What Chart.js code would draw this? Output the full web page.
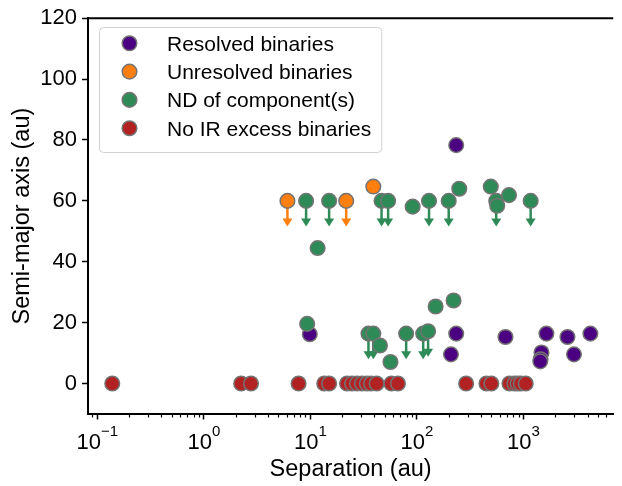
<!DOCTYPE html>
<html>
<head>
<meta charset="utf-8">
<script src="https://cdn.jsdelivr.net/npm/chart.js@4"></script>
<style>
  html, body { margin: 0; padding: 0; background: #fff; }
  #wrap { width: 622px; height: 486px; position: relative; }
</style>
</head>
<body>
<div id="wrap"><canvas id="binaryChart"></canvas></div>
<script>
// Data (separation in au, semi-major axis in au)
const resolvedSep = [9.87, 234, 209, 234, 679, 1645, 2593, 4256, 2985, 1479, 1450, 1440];
const resolvedA   = [16.2, 78.3, 9.6, 16.4, 15.3, 16.4, 15.3, 16.4, 9.6, 10.2, 8.0, 7.3];

const unresolvedSep = [6.09, 21.7, 39.0];
const unresolvedA   = [60, 60, 64.7];
const unresolvedLim = [true, true, false];

const ndSep = [9.12, 15.0, 46.6, 53.7, 91.3, 130, 199, 250, 494, 556, 568, 733, 1170,
               11.7, 9.33, 35.1, 39.0, 45.0, 56.5, 79.3, 114.6, 127.5, 150, 221];
const ndA   = [60, 60, 60, 60, 58.1, 60, 60, 64.0, 64.7, 60, 58.4, 61.9, 60,
               44.5, 19.6, 16.4, 16.4, 12.5, 7.1, 16.4, 16.4, 17.2, 25.3, 27.3];
const ndLim = [true, true, true, true, false, true, true, false, false, true, false, false, true,
               false, false, true, true, false, false, true, true, true, false, false];

const noIrSep = [0.138, 2.24, 2.77, 7.75, 13.5, 15.0, 22.1, 24.6, 27.4, 30.5, 33.9, 37.1, 41.9,
                 57.7, 66.4, 290, 450, 500, 740, 822, 883, 946, 1052];
const noIrA   = noIrSep.map(() => 0);

const LABELS = ['Resolved binaries', 'Unresolved binaries', 'ND of component(s)', 'No IR excess binaries'];
const COLORS = ['#4b0082', '#ff7f0e', '#2e8b57', '#b22222'];

// Axes
const X_MIN = 0.0817, X_MAX = 6970;
const X_MAJOR = [0.1, 1, 10, 100, 1000];
const Y_MIN = -10, Y_MAX = 120;
const Y_TICKS = [0, 20, 40, 60, 80, 100, 120];
const ARROW_LEN = 8.4; // upper-limit arrow length in au

const FONT = '"Liberation Sans", Arial, sans-serif';
const EDGE = '#737373';

// minor ticks of the log axis: 2..9 x each decade inside the range
const X_MINOR = [];
for (let e = -2; e <= 3; e++) {
    for (let m = 2; m <= 9; m++) {
        const v = m * Math.pow(10, e);
        if (v > X_MIN && v < X_MAX) X_MINOR.push(v);
    }
}

function toPoints(xs, ys) {
    return xs.map((x, i) => ({ x: x, y: ys[i] }));
}

function makeSet(i, xs, ys, lims) {
    return {
        label: LABELS[i],
        data: toPoints(xs, ys),
        upperLimits: lims || null,
        backgroundColor: COLORS[i],
        borderColor: EDGE,
        pointRadius: 7.3,
        pointHoverRadius: 7.3,
        pointBorderWidth: 1.5,
        order: 4 - i // later series drawn on top
    };
}

// Extra drawing: arrows, top spine, exponent tick labels, minor ticks, legend
const decorations = {
    id: 'decorations',
    beforeDatasetsDraw(chart) {
        const { ctx, scales: { x, y } } = chart;
        ctx.save();
        chart.data.datasets.forEach(ds => {
            if (!ds.upperLimits) return;
            ds.data.forEach((p, i) => {
                if (!ds.upperLimits[i]) return;
                const px = x.getPixelForValue(p.x);
                const y0 = y.getPixelForValue(p.y);
                const tip = y.getPixelForValue(p.y - ARROW_LEN);
                ctx.strokeStyle = ds.backgroundColor;
                ctx.fillStyle = ds.backgroundColor;
                ctx.lineWidth = 2.5;
                ctx.beginPath();
                ctx.moveTo(px, y0);
                ctx.lineTo(px, tip - 6);
                ctx.stroke();
                ctx.beginPath();
                ctx.moveTo(px - 5, tip - 8);
                ctx.lineTo(px + 5, tip - 8);
                ctx.lineTo(px, tip);
                ctx.closePath();
                ctx.fill();
            });
        });
        ctx.restore();
    },
    afterDraw(chart) {
        const { ctx, chartArea, scales: { x } } = chart;
        ctx.save();

        // top spine
        ctx.strokeStyle = '#000';
        ctx.lineWidth = 2;
        ctx.beginPath();
        ctx.moveTo(chartArea.left - 1, chartArea.top);
        ctx.lineTo(chartArea.right, chartArea.top);
        ctx.stroke();

        // minor ticks
        ctx.lineWidth = 1.2;
        X_MINOR.forEach(v => {
            const px = Math.round(x.getPixelForValue(v)) + 0.5;
            ctx.beginPath();
            ctx.moveTo(px, chartArea.bottom);
            ctx.lineTo(px, chartArea.bottom + 3.5);
            ctx.stroke();
        });

        // x tick labels as 10^n
        ctx.fillStyle = '#000';
        ctx.textBaseline = 'alphabetic';
        ctx.textAlign = 'left';
        X_MAJOR.forEach(v => {
            const e = Math.round(Math.log10(v));
            const expText = e < 0 ? '\u2212' + Math.abs(e) : String(e);
            ctx.font = '22px ' + FONT;
            const wBase = ctx.measureText('10').width;
            ctx.font = '15px ' + FONT;
            const wExp = ctx.measureText(expText).width;
            const px = x.getPixelForValue(v);
            const start = px - (wBase + wExp) / 2;
            ctx.font = '22px ' + FONT;
            ctx.fillText('10', start, 449);
            ctx.font = '15px ' + FONT;
            ctx.fillText(expText, start + wBase, 436);
        });

        // legend
        ctx.font = '21px ' + FONT;
        let maxW = 0;
        LABELS.forEach(t => { maxW = Math.max(maxW, ctx.measureText(t).width); });
        const lx = 99, ly = 27, lh = 125;
        const textX = 167;
        const lw = textX + maxW + 10 - lx;
        ctx.beginPath();
        ctx.roundRect(lx + 0.5, ly + 0.5, lw, lh, 4);
        ctx.fillStyle = 'rgba(255,255,255,0.8)';
        ctx.fill();
        ctx.strokeStyle = '#d0d0d0';
        ctx.lineWidth = 1;
        ctx.stroke();
        LABELS.forEach((t, i) => {
            const cy = 43.3 + i * 28.3;
            ctx.beginPath();
            ctx.arc(129.5, cy, 7.3, 0, Math.PI * 2);
            ctx.fillStyle = COLORS[i];
            ctx.fill();
            ctx.strokeStyle = EDGE;
            ctx.lineWidth = 1.5;
            ctx.stroke();
            ctx.fillStyle = '#000';
            ctx.fillText(t, textX, cy + 7.3);
        });
        ctx.restore();
    }
};

Chart.defaults.font.family = FONT;
Chart.defaults.color = '#000';

const ctx = document.getElementById('binaryChart').getContext('2d');
const chart = new Chart(ctx, {
    type: 'scatter',
    data: {
        datasets: [
            makeSet(0, resolvedSep, resolvedA),
            makeSet(1, unresolvedSep, unresolvedA, unresolvedLim),
            makeSet(2, ndSep, ndA, ndLim),
            makeSet(3, noIrSep, noIrA)
        ]
    },
    options: {
        responsive: true,
        maintainAspectRatio: false,
        animation: false,
        layout: { padding: { top: 16, right: 0, bottom: 0, left: 0 } },
        plugins: {
            legend: { display: false },
            tooltip: { enabled: false }
        },
        scales: {
            x: {
                type: 'logarithmic',
                min: X_MIN,
                max: X_MAX,
                afterBuildTicks: scale => {
                    scale.ticks = X_MAJOR.map(v => ({ value: v, major: true }))
                        .concat(X_MINOR.map(v => ({ value: v, major: false })))
                        .sort((a, b) => a.value - b.value);
                },
                afterFit: scale => { scale.height = 72; },
                ticks: { display: false },
                grid: {
                    drawOnChartArea: false,
                    drawTicks: true,
                    tickLength: 5.5,
                    tickWidth: 1.5,
                    tickColor: c => (c.tick && c.tick.major) ? '#000' : 'rgba(0,0,0,0)'
                },
                border: { color: '#000', width: 2 },
                title: {
                    display: true,
                    text: 'Separation (au)',
                    font: { size: 23.5 },
                    padding: { top: 0, bottom: 2 }
                }
            },
            y: {
                min: Y_MIN,
                max: Y_MAX,
                afterBuildTicks: scale => {
                    scale.ticks = Y_TICKS.map(v => ({ value: v }));
                },
                afterFit: scale => { scale.width = 88; },
                ticks: {
                    font: { size: 22 },
                    padding: 5,
                    callback: v => String(v)
                },
                grid: {
                    drawOnChartArea: false,
                    drawTicks: true,
                    tickLength: 6,
                    tickWidth: 1.5,
                    tickColor: '#000'
                },
                border: { color: '#000', width: 2 },
                title: {
                    display: true,
                    text: 'Semi-major axis (au)',
                    font: { size: 23.5 },
                    padding: { top: 8, bottom: 0 }
                }
            }
        }
    },
    plugins: [decorations]
});
</script>
</body>
</html>
